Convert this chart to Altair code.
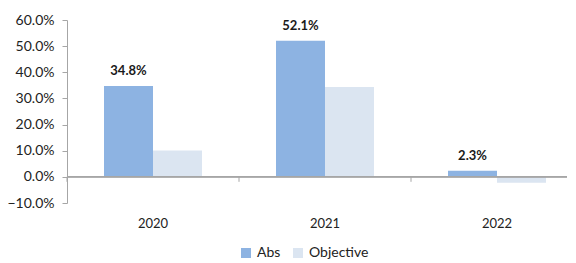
import altair as alt
import pandas as pd

years = ["2020", "2021", "2022"]
abs_vals = [0.348, 0.521, 0.023]
obj_vals = [0.101, 0.344, -0.023]
series = ["Abs", "Objective"]
colors = ["#8DB3E2", "#DBE5F1"]
y_ticks = [-0.1, 0.0, 0.1, 0.2, 0.3, 0.4, 0.5, 0.6]

rows = []
for y, a, o in zip(years, abs_vals, obj_vals):
    rows.append({"year": y, "series": "Abs", "value": a})
    rows.append({"year": y, "series": "Objective", "value": o})
df = pd.DataFrame(rows)
df_years = pd.DataFrame({"year": years})

FONT = "Lato"
xscale = alt.Scale(domain=years, range=[0, 516], paddingInner=0, paddingOuter=0)
yscale = alt.Scale(domain=[-0.1, 0.6], nice=False, zero=False)

xaxis = alt.Axis(title=None, domain=False, ticks=False, labelAngle=0,
                 labelPadding=14, labelFontSize=13, labelFont=FONT,
                 labelColor="#222222")
yaxis = alt.Axis(title=None, values=y_ticks, format=".1%", grid=False,
                 domainColor="#A6A6A6", tickColor="#A6A6A6", tickSize=5,
                 labelPadding=8, labelFontSize=14, labelFont=FONT,
                 labelColor="#222222", labelOverlap=False,
                 labelBound=False, labelFlush=False, labelSeparation=0)

base = alt.Chart(df)

bars = base.mark_bar(size=49).encode(
    x=alt.X("year:N", scale=xscale, axis=xaxis),
    xOffset=alt.XOffset("series:N", sort=series,
                        scale=alt.Scale(domain=series, paddingInner=0, paddingOuter=0.755)),
    y=alt.Y("value:Q", scale=yscale, axis=yaxis),
    color=alt.Color("series:N", scale=alt.Scale(domain=series, range=colors),
                    legend=alt.Legend(title=None, orient="none", direction="horizontal",
                                      legendX=172, legendY=226, symbolType="square",
                                      symbolSize=100, symbolStrokeWidth=0,
                                      labelFontSize=14, labelFont=FONT,
                                      labelColor="#222222", columnPadding=10,
                                      labelOffset=4)),
)

labels = base.transform_filter(alt.datum.series == "Abs").mark_text(
    font=FONT, fontSize=13, fontWeight="bold", baseline="middle", dy=-14.5,
    color="#1a1a1a"
).encode(
    x=alt.X("year:N", scale=xscale, axis=xaxis),
    xOffset=alt.XOffset("series:N", sort=series),
    y=alt.Y("value:Q", scale=yscale, axis=yaxis),
    text=alt.Text("value:Q", format=".1%"),
)

zero = alt.Chart(df_years).mark_rule(color="#A6A6A6", strokeWidth=1.5).encode(
    x=alt.value(0), x2=alt.value(516), y=alt.Y(datum=0, scale=yscale, axis=yaxis)
)

xticks = alt.Chart(df_years).mark_rule(color="#A6A6A6", strokeWidth=1).encode(
    x=alt.X("year:N", bandPosition=0, scale=xscale, axis=xaxis),
    y=alt.Y(datum=0, scale=yscale, axis=yaxis), y2=alt.datum(-0.019)
)

chart = alt.layer(bars, zero, xticks, labels).properties(
    width=500, height=183,
    autosize=alt.AutoSizeParams(type="none"),
    padding={"left": 59, "top": 12, "right": 0, "bottom": 56},
).configure_view(stroke=None).configure_axis(labelOverlap=False)

chart.save("out.html", embed_options={"renderer": "svg", "actions": False})
